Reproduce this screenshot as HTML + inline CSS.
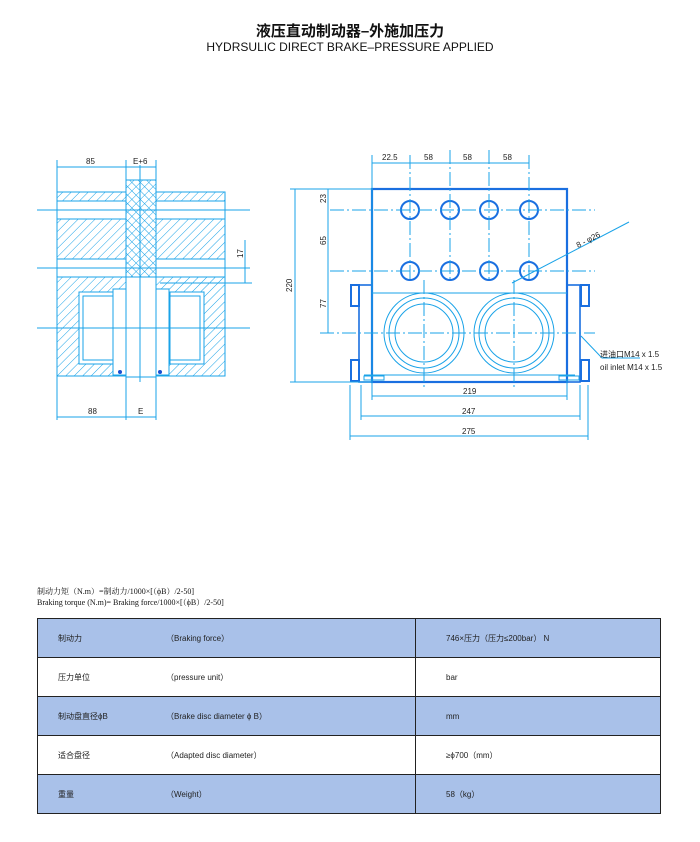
<!DOCTYPE html>
<html><head><meta charset="utf-8"><style>
body{margin:0;background:#fff;width:700px;height:842px;overflow:hidden;position:relative;font-family:"Liberation Sans","Noto Sans CJK SC",sans-serif}
.t1{position:absolute;left:0;width:700px;top:20px;text-align:center;font-size:15px;font-weight:bold;color:#111}
.t2{position:absolute;left:0;width:700px;top:40px;text-align:center;font-size:12px;color:#111}
.f{position:absolute;left:37px;font-size:8px;font-family:"Liberation Serif","Noto Serif CJK SC",serif;color:#111}
table{position:absolute;left:37px;top:618px;width:624px;border-collapse:collapse;font-size:8px;color:#222}
td{height:38px;border:1px solid #222;padding:0}
tr.b td{background:#a9c1e9}
.c1{display:inline-block;width:108px;padding-left:20px}
</style></head><body>
<div class="t1">液压直动制动器–外施加压力</div>
<div class="t2">HYDRSULIC DIRECT BRAKE–PRESSURE APPLIED</div>
<svg width="700" height="842" style="position:absolute;left:0;top:0" font-family="Liberation Sans" font-size="8" fill="none" stroke="#1aa3e8" stroke-width="1">
<defs>
<pattern id="h" width="6" height="6" patternUnits="userSpaceOnUse" patternTransform="rotate(45)"><line x1="0" y1="0" x2="0" y2="6" stroke="#1aa3e8"/></pattern>
<pattern id="h2" width="6" height="6" patternUnits="userSpaceOnUse" patternTransform="rotate(-45)"><line x1="0" y1="0" x2="0" y2="6" stroke="#1aa3e8"/></pattern>
</defs>
<!-- left drawing -->
<rect x="57" y="192" width="168" height="9" fill="url(#h)"/>
<rect x="57" y="219" width="168" height="40" fill="url(#h)"/>
<path d="M57 277H225V376H57Z M79 292V364H113V292Z M177 292V364H203V292Z" fill="url(#h)" fill-rule="evenodd"/>
<rect x="57" y="192" width="168" height="184"/>
<line x1="57" y1="201" x2="225" y2="201"/><line x1="57" y1="219" x2="225" y2="219"/>
<line x1="57" y1="259" x2="225" y2="259"/><line x1="57" y1="277" x2="225" y2="277"/>
<rect x="126" y="180" width="30" height="97" fill="#fff"/>
<rect x="126" y="180" width="30" height="97" fill="url(#h)"/><rect x="126" y="180" width="30" height="97" fill="url(#h2)"/>
<rect x="126" y="277" width="30" height="100" fill="#fff"/>
<rect x="79" y="292" width="34" height="72" fill="#fff"/><rect x="83" y="296" width="30" height="64"/>
<rect x="170" y="292" width="34" height="72" fill="#fff"/><rect x="170" y="296" width="30" height="64"/>
<rect x="113" y="289" width="13" height="86" fill="#fff"/><rect x="156" y="289" width="13" height="86" fill="#fff"/>
<circle cx="120" cy="372" r="2" fill="#1a4fd0" stroke="none"/><circle cx="160" cy="372" r="2" fill="#1a4fd0" stroke="none"/>
<line x1="140" y1="165" x2="140" y2="382"/>
<line x1="37" y1="210" x2="250" y2="210"/><line x1="37" y1="268" x2="250" y2="268"/><line x1="37" y1="328" x2="250" y2="328"/>
<line x1="57" y1="160" x2="57" y2="420"/><line x1="126" y1="160" x2="126" y2="420"/><line x1="156" y1="160" x2="156" y2="420"/>
<line x1="57" y1="167" x2="156" y2="167"/><line x1="57" y1="417" x2="156" y2="417"/>
<line x1="245" y1="240" x2="245" y2="283"/><line x1="160" y1="283" x2="252" y2="283"/>
<g fill="#222" stroke="none"><text x="86" y="164">85</text><text x="133" y="164">E+6</text><text x="88" y="414">88</text><text x="138" y="414">E</text><text x="0" y="0" transform="translate(243,258) rotate(-90)">17</text></g>
<!-- right drawing -->
<g stroke="#1a6fe0">
<rect x="372" y="189" width="195" height="193" stroke-width="2.2"/>
<g stroke-width="2"><circle cx="410" cy="210" r="9"/><circle cx="450" cy="210" r="9"/><circle cx="489" cy="210" r="9"/><circle cx="529" cy="210" r="9"/>
<circle cx="410" cy="271" r="9"/><circle cx="450" cy="271" r="9"/><circle cx="489" cy="271" r="9"/><circle cx="529" cy="271" r="9"/></g>
<rect x="359" y="285" width="13" height="97" stroke-width="1.6"/><rect x="567" y="285" width="13" height="97" stroke-width="1.6"/>
<g stroke-width="2"><rect x="351" y="285" width="8" height="21"/><rect x="351" y="360" width="8" height="21"/><rect x="581" y="285" width="8" height="21"/><rect x="581" y="360" width="8" height="21"/></g>
</g>
<line x1="372" y1="293" x2="567" y2="293"/>
<line x1="364" y1="375" x2="575" y2="375"/>
<rect x="364" y="376" width="20" height="4"/><rect x="559" y="376" width="20" height="4"/>
<g><circle cx="424" cy="333" r="40"/><circle cx="424" cy="333" r="35"/><circle cx="424" cy="333" r="29"/>
<circle cx="514" cy="333" r="40"/><circle cx="514" cy="333" r="35"/><circle cx="514" cy="333" r="29"/></g>
<g stroke-dasharray="14 3 2 3"><line x1="330" y1="210" x2="595" y2="210"/><line x1="330" y1="271" x2="595" y2="271"/><line x1="320" y1="333" x2="595" y2="333"/>
<line x1="424" y1="280" x2="424" y2="388"/><line x1="514" y1="280" x2="514" y2="388"/>
<line x1="410" y1="155" x2="410" y2="280"/><line x1="450" y1="150" x2="450" y2="280"/><line x1="489" y1="150" x2="489" y2="280"/><line x1="529" y1="155" x2="529" y2="280"/></g>
<line x1="372" y1="155" x2="372" y2="400"/><line x1="567" y1="380" x2="567" y2="400"/>
<line x1="372" y1="163" x2="529" y2="163"/>
<line x1="290" y1="189" x2="372" y2="189"/><line x1="290" y1="382" x2="372" y2="382"/><line x1="295" y1="189" x2="295" y2="382"/>
<line x1="328" y1="189" x2="328" y2="333"/>
<line x1="372" y1="396" x2="567" y2="396"/>
<line x1="361" y1="385" x2="361" y2="420"/><line x1="580" y1="385" x2="580" y2="420"/><line x1="361" y1="416" x2="580" y2="416"/>
<line x1="350" y1="385" x2="350" y2="440"/><line x1="588" y1="385" x2="588" y2="440"/><line x1="350" y1="436" x2="588" y2="436"/>
<line x1="512" y1="283" x2="629" y2="222"/>
<polyline points="581,336 602,358 640,358"/>
<g fill="#222" stroke="none">
<text x="382" y="160">22.5</text><text x="424" y="160">58</text><text x="463" y="160">58</text><text x="503" y="160">58</text>
<text x="463" y="394">219</text><text x="462" y="414">247</text><text x="462" y="434">275</text>
<text transform="translate(292,292) rotate(-90)">220</text>
<text transform="translate(326,203) rotate(-90)">23</text><text transform="translate(326,245) rotate(-90)">65</text><text transform="translate(326,308) rotate(-90)">77</text>
<text transform="translate(578,248) rotate(-27)">8 - φ26</text>
<text x="600" y="357" font-family="Liberation Sans,Noto Sans CJK SC,sans-serif">进油口M14 x 1.5</text>
<text x="600" y="370">oil inlet M14 x 1.5</text>
</g>
</svg>
<div class="f" style="top:586px">制动力矩（N.m）=制动力/1000×[（ϕB）/2-50]</div>
<div class="f" style="top:597px">Braking torque (N.m)= Braking force/1000×[（ϕB）/2-50]</div>
<table>
<tr class="b"><td style="width:377px"><span class="c1">制动力</span>（Braking force）</td><td style="padding-left:30px">746×压力（压力≤200bar） N</td></tr>
<tr><td><span class="c1">压力单位</span>（pressure unit）</td><td style="padding-left:30px">bar</td></tr>
<tr class="b"><td><span class="c1">制动盘直径ϕB</span>（Brake disc diameter ϕ B）</td><td style="padding-left:30px">mm</td></tr>
<tr><td><span class="c1">适合盘径</span>（Adapted disc diameter）</td><td style="padding-left:30px">≥ϕ700（mm）</td></tr>
<tr class="b"><td><span class="c1">重量</span>（Weight）</td><td style="padding-left:30px">58（kg）</td></tr>
</table>
</body></html>
